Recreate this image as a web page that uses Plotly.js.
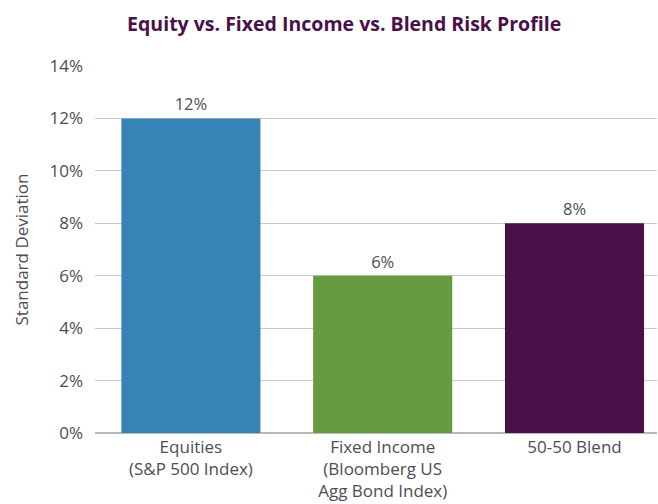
<!DOCTYPE html>
<html>
<head>
<meta charset="utf-8">
<script src="https://cdn.plot.ly/plotly-3.0.1.min.js"></script>
<style>html,body{margin:0;padding:0;background:#fff;}#chart{width:658px;height:504px;}</style>
</head>
<body>
<div id="chart"></div>
<script>
const categories = ["Equities<br>(S&P 500 Index)", "Fixed Income<br>(Bloomberg US<br>Agg Bond Index)", "50-50 Blend"];
const stdDev = [12, 6, 8];
const barLabels = ["12%", "6%", "8%"];
const barColors = ["#3783b5", "#659c41", "#4a1049"];
const yTickVals = [0, 2, 4, 6, 8, 10, 12, 14];
const yTickText = ["0%", "2%", "4%", "6%", "8%", "10%", "12%", "14%"];

const textColor = "#4d4d57";
const trace = {
  type: "bar",
  x: [0, 1, 2],
  y: stdDev,
  text: barLabels,
  textposition: "outside",
  cliponaxis: false,
  textfont: {family: "Open Sans", size: 16.5, color: textColor},
  marker: {color: barColors},
  width: 0.725,
  hoverinfo: "none"
};

const layout = {
  width: 658, height: 504,
  margin: {l: 95, r: 1, t: 65.5, b: 71, pad: 0},
  paper_bgcolor: "#ffffff", plot_bgcolor: "#ffffff",
  showlegend: false,
  title: {
    text: "<b>Equity vs. Fixed Income vs. Blend Risk Profile</b>",
    font: {family: "Open Sans", size: 19.5, color: "#4a1049"},
    x: 0.523, xanchor: "center", y: 0.952, yanchor: "middle"
  },
  xaxis: {
    range: [-0.5, 2.43],
    tickmode: "array", tickvals: [0, 1, 2], ticktext: categories,
    showgrid: false, zeroline: false, showline: false, ticks: "",
    ticklabelstandoff: 2,
    tickfont: {family: "Open Sans", size: 17, color: textColor},
    fixedrange: true
  },
  yaxis: {
    range: [0, 14],
    tickmode: "array", tickvals: yTickVals, ticktext: yTickText,
    showgrid: true, gridcolor: "#c9c9c9", gridwidth: 1,
    zeroline: true, zerolinecolor: "#b9b9b9", zerolinewidth: 1.5,
    showline: false, ticks: "", ticklabelstandoff: 11,
    tickfont: {family: "Open Sans", size: 17, color: textColor},
    title: {text: "Standard Deviation", font: {family: "Open Sans", size: 17, color: textColor}, standoff: 16},
    fixedrange: true
  }
};

Plotly.newPlot("chart", [trace], layout, {displayModeBar: false, staticPlot: true});
</script>
</body>
</html>
